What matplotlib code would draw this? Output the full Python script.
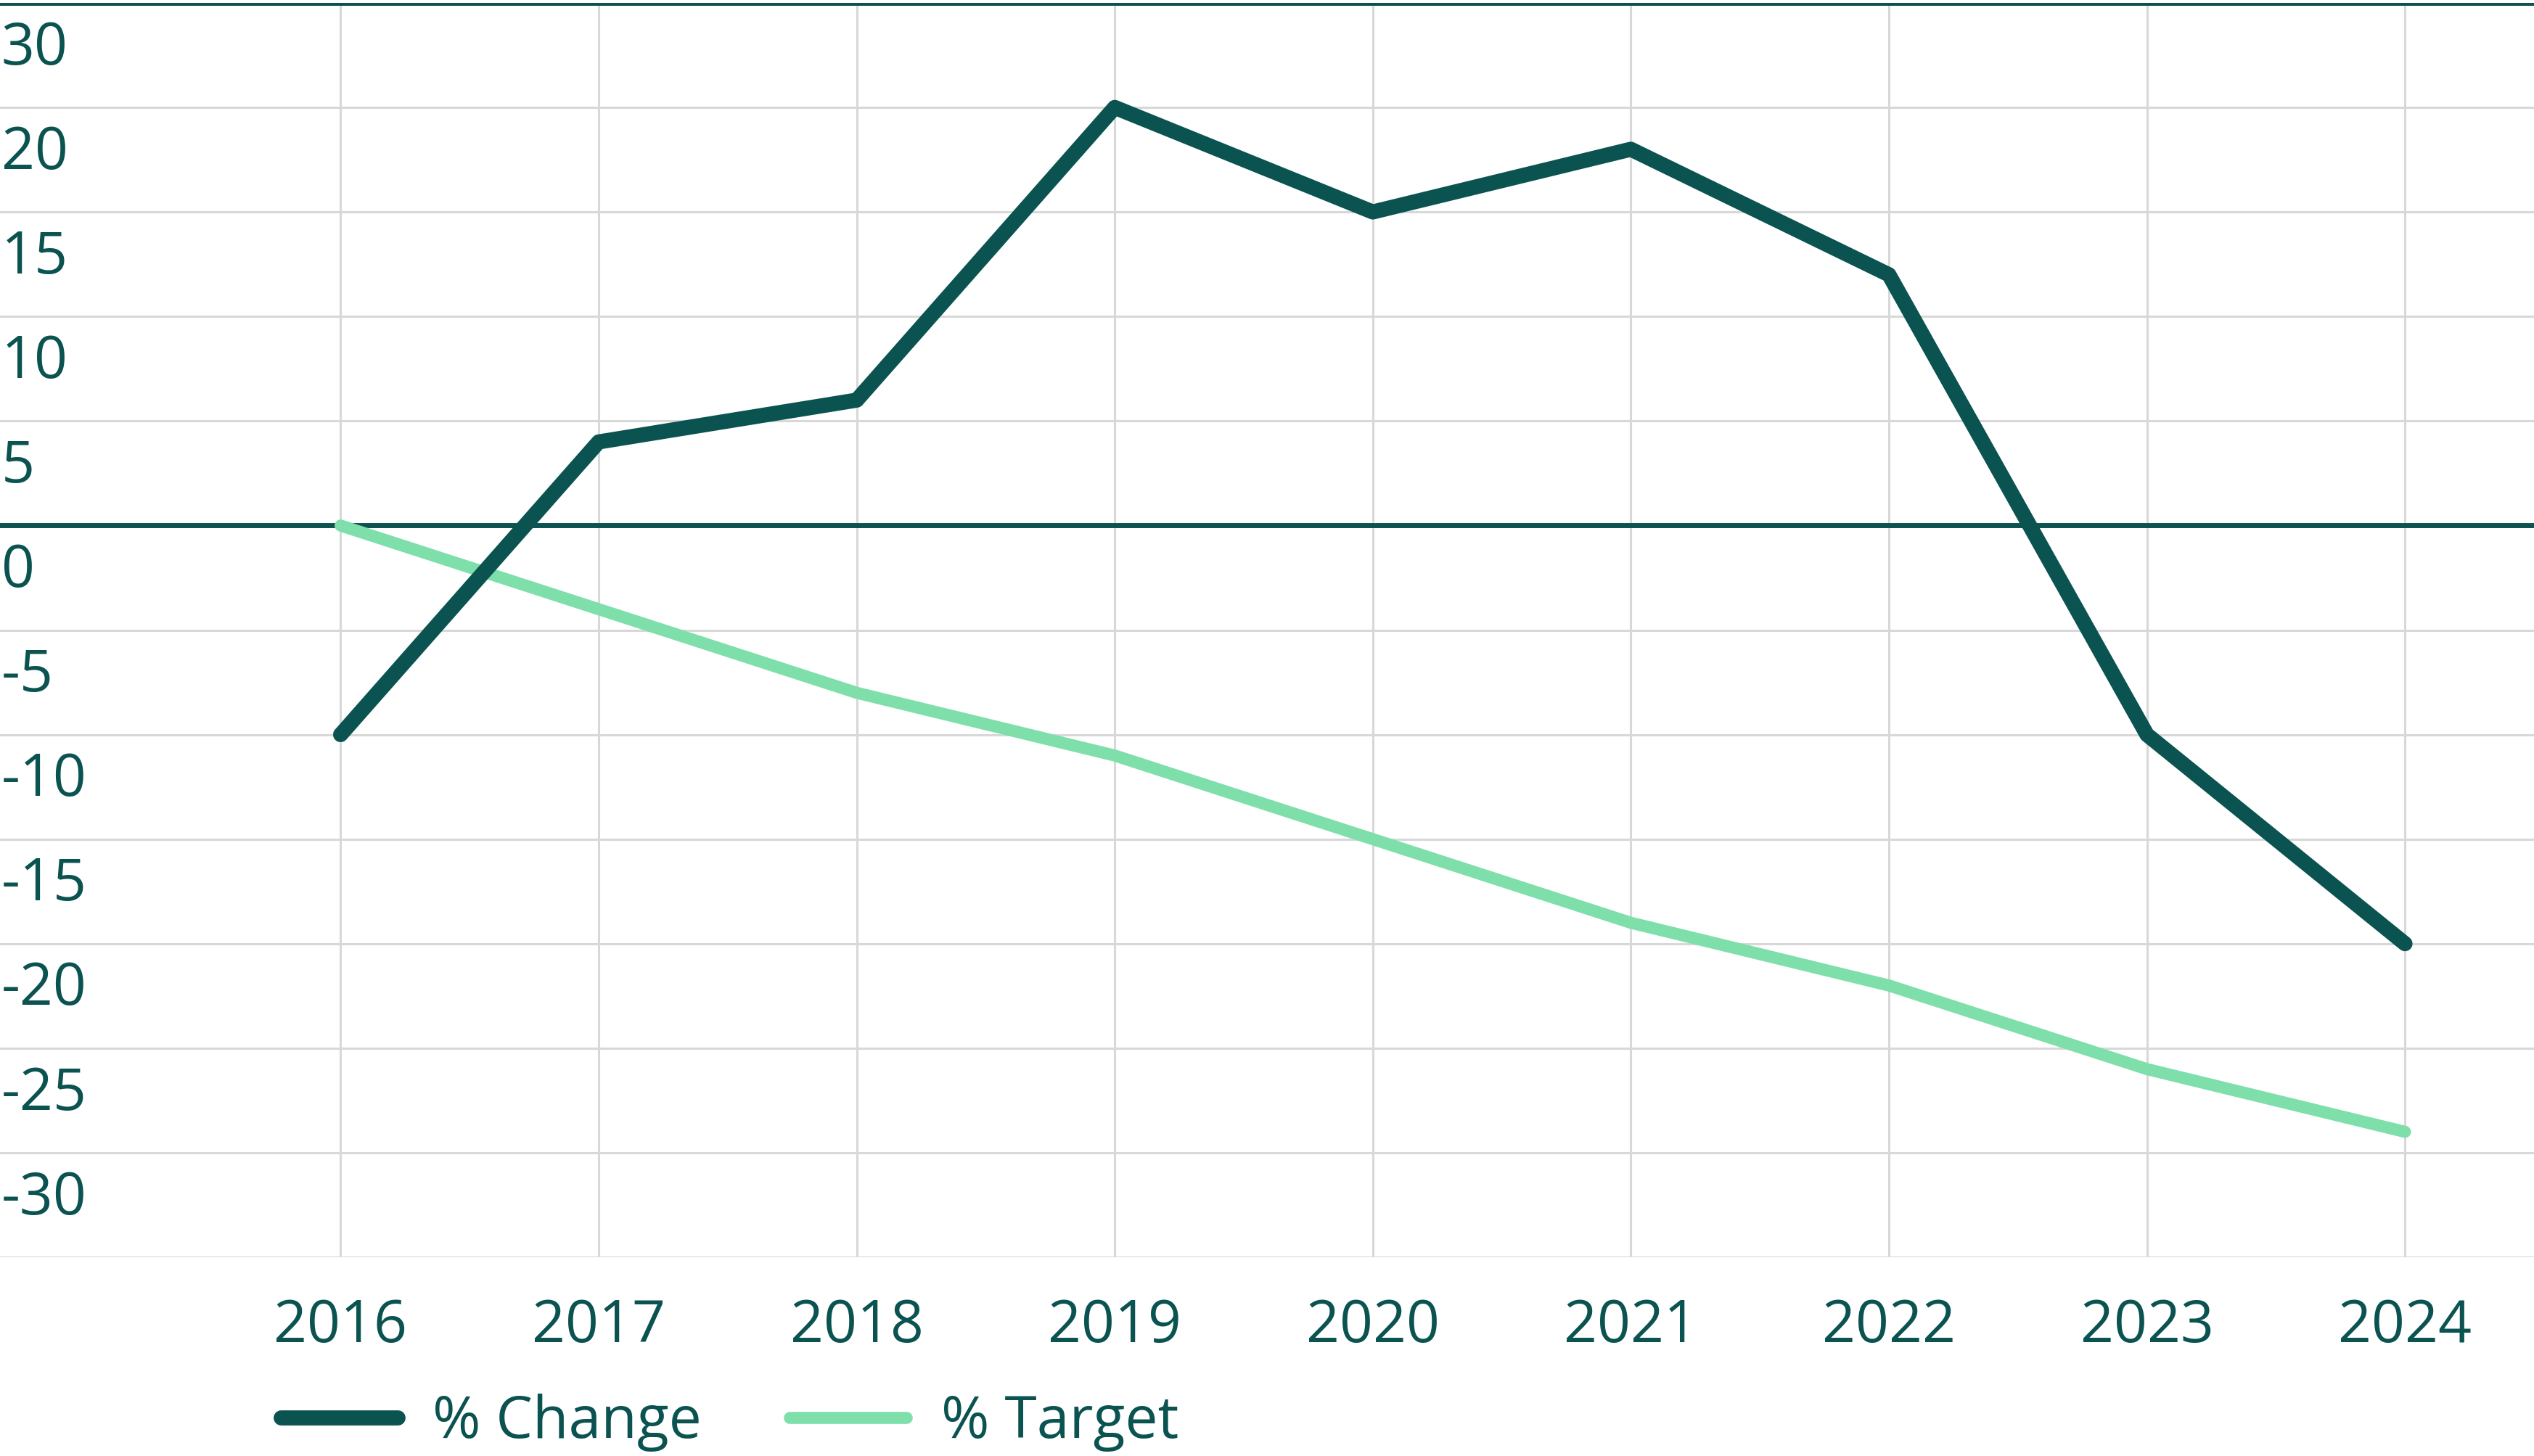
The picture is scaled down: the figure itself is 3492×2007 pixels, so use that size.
import matplotlib
matplotlib.use("Agg")
import matplotlib.pyplot as plt

years = [2016, 2017, 2018, 2019, 2020, 2021, 2022, 2023, 2024]
change = [-10, 4, 6, 20, 15, 18, 12, -10, -20]
target = [0, -4, -8, -11, -15, -19, -22, -26, -29]
ytick_vals = [25, 20, 15, 10, 5, 0, -5, -10, -15, -20, -25, -30]
ytick_labels = ["30", "20", "15", "10", "5", "0", "-5", "-10", "-15", "-20", "-25", "-30"]

dark = "#0b5351"
light = "#7fdfab"
plt.rcParams['font.family'] = ['Open Sans', 'DejaVu Sans']

fig = plt.figure(figsize=(17.46, 10.035), dpi=200)
ax = fig.add_axes([0, 0.1365, 1, 0.998 - 0.1365])
ax.set_xlim(2014.68, 2024.5)
ax.set_ylim(-35, 25)
for s in ax.spines.values():
    s.set_visible(False)
ax.set_yticks(ytick_vals + [-35])
ax.set_yticklabels([])
ax.tick_params(axis='y', length=0)
ax.set_xticks(years)
ax.set_xticklabels([str(y) for y in years], fontsize=29, color=dark)
ax.tick_params(axis='x', length=0, pad=20)
ax.grid(True, color="#d8d8d8", linewidth=1.1)
ax.axhline(25, color=dark, linewidth=2.5, zorder=2)
ax.axhline(0, color=dark, linewidth=2.5, zorder=2)
for v, lab in zip(ytick_vals, ytick_labels):
    ax.text(2014.68 + 0.005, v - 2.2, lab, fontsize=29, color=dark, va='center', ha='left')

ax.plot(years, target, color=light, linewidth=6, solid_capstyle='round', solid_joinstyle='round', label="% Target", zorder=3)
ax.plot(years, change, color=dark, linewidth=7.5, solid_capstyle='round', solid_joinstyle='round', label="% Change", zorder=4)

h, l = ax.get_legend_handles_labels()
leg = fig.legend([h[1], h[0]], [l[1], l[0]], loc='lower left', bbox_to_anchor=(0.09, -0.033), ncol=2,
                 frameon=False, fontsize=29, handlelength=2.0, handletextpad=0.6, columnspacing=1.5, labelcolor=dark)
fig.savefig("out.png", dpi=200)
